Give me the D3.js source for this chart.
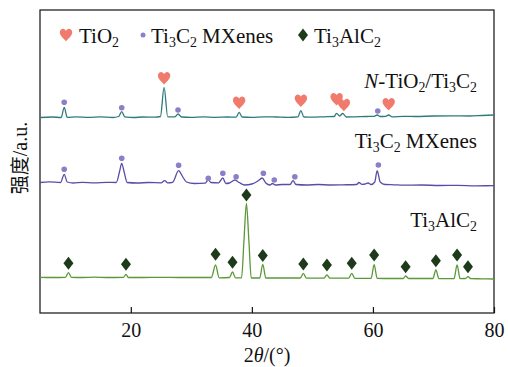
<!DOCTYPE html>
<html>
<head>
<meta charset="utf-8">
<script src="https://cdn.jsdelivr.net/npm/d3@7/dist/d3.min.js"></script>
<style>
  html, body { margin: 0; padding: 0; background: #fff; }
  svg { display: block; }
  text { font-family: "Liberation Serif", "Times New Roman", serif; fill: #111; }
</style>
</head>
<body>
<svg id="chart" width="508" height="367"></svg>
<script>
// 2θ axis
const thetaDomain = [5, 80];
const thetaTicks = [20, 40, 60, 80];
const intensityDomain = [0, 303];

// N-TiO2/Ti3C2 pattern (2θ in degrees, intensity in a.u.)
const compositeTheta = [5, 7, 8.5, 9.0, 9.5, 11, 13, 15, 17, 18.0, 18.5, 19.0, 20.5, 22, 24, 24.9, 25.5, 26.1, 27.3, 27.8, 28.4, 30, 32, 34, 36, 37.4, 37.9, 38.4, 40, 42, 44, 46, 47.6, 48.1, 48.6, 50, 52, 53.6, 54.0, 54.5, 55.0, 55.6, 57, 59, 60.2, 60.7, 61.2, 62.1, 62.6, 63.2, 65, 67, 70, 73, 76, 78, 80];
const compositeIntensity = [195.5, 196, 195.5, 205.7, 195.7, 196.2, 195.7, 196.2, 195.5, 196.5, 201.3, 196.2, 195.5, 196, 195.8, 196.5, 225.7, 196.2, 196.2, 199, 196, 195.7, 196.2, 195.7, 196, 195.8, 200.7, 196, 195.7, 196.2, 196, 195.7, 196.2, 202.3, 196, 195.8, 196.2, 196.5, 199.7, 197, 199.5, 196, 196.2, 196.5, 196.7, 198, 196.5, 196.7, 198, 196.2, 196.7, 196.5, 197, 197.2, 197, 197.5, 198];

// Ti3C2 MXenes pattern
const mxeneTheta = [5, 6.5, 8.4, 9.0, 9.5, 10.5, 12, 14, 16, 17.6, 18.2, 18.5, 18.9, 19.4, 21, 23, 25.0, 25.6, 26.1, 26.9, 27.9, 28.5, 29.2, 30.5, 32.3, 32.8, 33.2, 34.5, 35.2, 35.7, 36.3, 37.2, 37.9, 38.8, 40, 41.0, 41.7, 42.3, 43.0, 43.4, 43.9, 45, 46.3, 46.8, 47.3, 49, 51, 53, 55, 57.3, 57.7, 58.2, 58.8, 59.2, 59.7, 60.3, 60.7, 61.2, 62, 63.5, 65, 68, 71, 74, 77, 80];
const mxeneIntensity = [130.5, 131.2, 130.5, 138.7, 131, 130, 130.7, 130.2, 130.7, 130.5, 143, 149.7, 141, 130.5, 130, 130.5, 130.2, 132.3, 130.2, 130.7, 142.3, 137, 131, 129.5, 129.8, 133.5, 130.5, 130.2, 135, 129.5, 130, 133, 130.5, 128, 129, 132, 135, 130, 128, 129.5, 128, 128.5, 128.5, 132.3, 128.5, 128, 128.5, 128, 128.2, 128.5, 130.5, 128.7, 129.2, 130, 128.5, 131, 142.3, 131, 128.5, 128.2, 127.8, 128, 127.5, 127.7, 127.2, 127.3];

// Ti3AlC2 pattern
const maxTheta = [5, 7, 9.2, 9.7, 10.2, 12, 14, 16, 18.8, 19.2, 19.6, 22, 25, 28, 31, 33.3, 34.0, 34.6, 36.3, 36.8, 37.3, 38.3, 38.7, 39.1, 39.5, 39.9, 41.3, 41.8, 42.3, 44, 46, 48.0, 48.5, 49.0, 51.9, 52.4, 52.9, 56.0, 56.5, 57.0, 59.7, 60.2, 60.7, 63, 65.0, 65.4, 65.9, 69.9, 70.4, 70.9, 73.4, 73.9, 74.4, 75.3, 75.7, 76.2, 78, 80];
const maxIntensity = [35.7, 35.5, 35.7, 40.3, 35.7, 35.5, 35.8, 35.5, 35.7, 38.7, 35.5, 35.5, 35.7, 35.5, 35.5, 35.5, 48, 35.2, 35.5, 41, 35.2, 35.2, 73, 109.7, 73, 35, 35, 48.7, 35, 35, 35, 35, 39.7, 34.8, 34.8, 38, 34.8, 34.8, 39.7, 34.7, 34.7, 48.3, 34.7, 34.5, 34.5, 37, 34.5, 34.5, 43, 34.4, 34.4, 48, 34.4, 34.5, 36.3, 34.3, 34.2, 34];

// Phase markers: 2θ and marker level
const tio2Theta = [25.5, 37.9, 48.1, 54.0, 55.2, 62.6];
const tio2Level = [234.7, 210.3, 212.3, 213.7, 208, 208.7];
const mxeneOnCompositeTheta = [9.0, 18.5, 27.8, 60.8];
const mxeneOnCompositeLevel = [210.7, 205.3, 203, 202];
const mxenePeakTheta = [9.0, 18.5, 27.9, 32.8, 35.2, 37.4, 41.9, 43.7, 47.1, 60.9];
const mxenePeakLevel = [143.7, 154.7, 147.7, 134.7, 139.7, 136.3, 139.7, 133, 136.3, 148];
const maxPeakTheta = [9.7, 19.2, 34.0, 36.8, 39.1, 41.8, 48.5, 52.4, 56.5, 60.2, 65.4, 70.4, 73.9, 75.7];
const maxPeakLevel = [49.7, 48.7, 58.7, 50.7, 118, 57.5, 49, 48, 49.7, 58, 46.3, 52.3, 58, 46.3];

// Sample names and legend entries
const sampleLabels = ["<i>N</i>-TiO_2/Ti_3C_2", "Ti_3C_2 MXenes", "Ti_3AlC_2"];
const sampleLabelLevel = [224.7, 164.7, 85.7];
const legendNames = ["TiO_2", "Ti_3C_2 MXenes", "Ti_3AlC_2"];

const colors = {
  composite: "#2f7b7c",
  mxene: "#5b4ca6",
  max: "#5a9838",
  heart: "#f07b6d",
  dot: "#8a80c8",
  diamond: "#1d3a1a"
};

const svg = d3.select("#chart");
const margin = { left: 40, right: 14, top: 10, bottom: 54 };
const W = 508, H = 367;
const FS = 21;

const x = d3.scaleLinear().domain(thetaDomain).range([margin.left, W - margin.right]);
const y = d3.scaleLinear().domain(intensityDomain).range([H - margin.bottom, margin.top]);

// Writes "Ti_3C_2" style strings as text with subscript tspans
function richText(sel, str, size) {
  const parts = str.split(/(<i>.*?<\/i>|_\d)/).filter(s => s.length);
  let sub = false;
  parts.forEach(p => {
    if (p.startsWith("_")) {
      sel.append("tspan").attr("font-size", size * 0.66).attr("dy", sub ? 0 : 4).text(p.slice(1));
      sub = true;
    } else {
      const t = sel.append("tspan").attr("dy", sub ? -4 : 0);
      if (p.startsWith("<i>")) t.attr("font-style", "italic").text(p.slice(3, -4));
      else t.text(p);
      sub = false;
    }
  });
}

const heartPath = "M0,6.2 C-1.5,4.2 -6.2,1 -6.2,-2.5 C-6.2,-5 -4.4,-6.2 -3,-6.2 C-1.6,-6.2 -0.6,-5.2 0,-4 C0.6,-5.2 1.6,-6.2 3,-6.2 C4.4,-6.2 6.2,-5 6.2,-2.5 C6.2,1 1.5,4.2 0,6.2Z";
const diamondPath = "M0,-6.5 L5,0 L0,6.5 L-5,0Z";

// Frame
svg.append("rect")
  .attr("x", margin.left).attr("y", margin.top)
  .attr("width", W - margin.left - margin.right)
  .attr("height", H - margin.top - margin.bottom)
  .attr("fill", "none").attr("stroke", "#111").attr("stroke-width", 1.2);

// Bottom axis with inward ticks
const xAxis = d3.axisBottom(x).tickValues(thetaTicks).tickSizeInner(-6).tickSizeOuter(0).tickPadding(0);
const gx = svg.append("g").attr("transform", `translate(0,${H - margin.bottom})`).call(xAxis);
gx.select(".domain").remove();
gx.selectAll(".tick line").attr("stroke", "#111").attr("stroke-width", 1.2);
gx.selectAll(".tick text")
  .attr("font-family", "Liberation Serif, serif").attr("font-size", 20).attr("fill", "#111")
  .attr("y", 24).attr("dy", 0);

// Axis titles
const xt = svg.append("text").attr("x", 267).attr("y", 362).attr("text-anchor", "middle").attr("font-size", 20);
xt.append("tspan").text("2");
xt.append("tspan").attr("font-style", "italic").text("θ");
xt.append("tspan").text("/(°)");

const yt = svg.append("text")
  .attr("transform", `translate(27,158) rotate(-90)`)
  .attr("text-anchor", "middle")
  .attr("font-size", 20);
yt.append("tspan").attr("font-family", "Noto Sans CJK SC, sans-serif").attr("font-size", 19).text("强度");
yt.append("tspan").text("/a.u.");

// Patterns
const line = d3.line().x(d => x(d[0])).y(d => y(d[1])).curve(d3.curveMonotoneX);
const patterns = [
  { t: compositeTheta, v: compositeIntensity, c: colors.composite },
  { t: mxeneTheta, v: mxeneIntensity, c: colors.mxene },
  { t: maxTheta, v: maxIntensity, c: colors.max }
];
patterns.forEach(p => {
  svg.append("path")
    .datum(p.t.map((t, i) => [t, p.v[i]]))
    .attr("d", line)
    .attr("fill", "none")
    .attr("stroke", p.c)
    .attr("stroke-width", 1.3)
    .attr("stroke-linejoin", "round");
});

// Markers
function hearts(th, lv) {
  svg.append("g").selectAll("path").data(th).join("path")
    .attr("d", heartPath).attr("fill", colors.heart)
    .attr("transform", (t, i) => `translate(${x(t)},${y(lv[i])})`);
}
function dots(th, lv) {
  svg.append("g").selectAll("circle").data(th).join("circle")
    .attr("cx", t => x(t)).attr("cy", (t, i) => y(lv[i])).attr("r", 2.8)
    .attr("fill", colors.dot);
}
function diamonds(th, lv) {
  svg.append("g").selectAll("path").data(th).join("path")
    .attr("d", diamondPath).attr("fill", colors.diamond)
    .attr("transform", (t, i) => `translate(${x(t)},${y(lv[i])})`);
}
hearts(tio2Theta, tio2Level);
dots(mxeneOnCompositeTheta, mxeneOnCompositeLevel);
dots(mxenePeakTheta, mxenePeakLevel);
diamonds(maxPeakTheta, maxPeakLevel);

// Sample names, right aligned
sampleLabels.forEach((s, i) => {
  const t = svg.append("text").attr("x", 477).attr("y", y(sampleLabelLevel[i]))
    .attr("text-anchor", "end").attr("font-size", FS);
  richText(t, s, FS);
});

// Legend
const legendX = [66, 143, 303];
const legendTextX = [79, 151, 314];
const legendY = 35;
svg.append("path").attr("d", heartPath).attr("fill", colors.heart)
  .attr("transform", `translate(${legendX[0]},${legendY})`);
svg.append("circle").attr("cx", legendX[1]).attr("cy", legendY).attr("r", 2.5).attr("fill", colors.dot);
svg.append("path").attr("d", diamondPath).attr("fill", colors.diamond)
  .attr("transform", `translate(${legendX[2]},${legendY})`);
legendNames.forEach((s, i) => {
  const t = svg.append("text").attr("x", legendTextX[i]).attr("y", legendY + 7.5).attr("font-size", FS);
  richText(t, s, FS);
});
</script>
</body>
</html>
